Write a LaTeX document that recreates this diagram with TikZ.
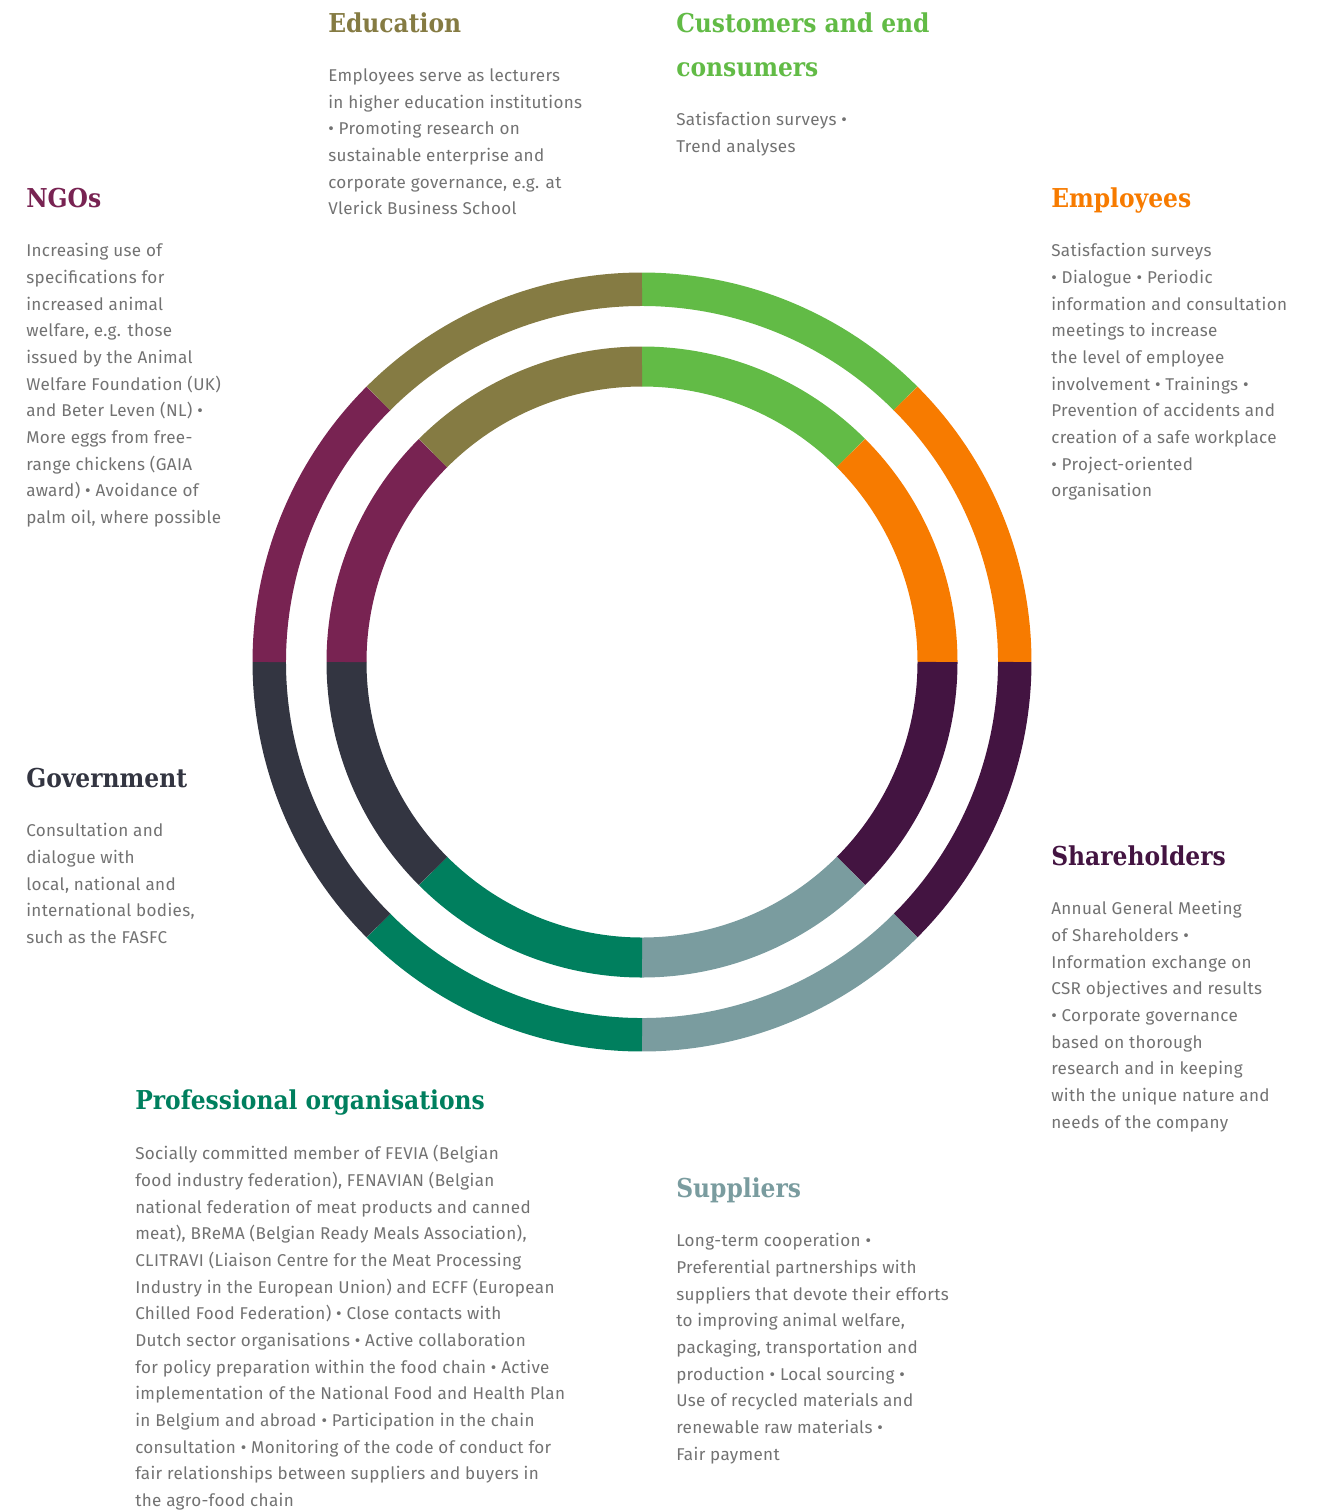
\documentclass[tikz,border=0pt]{standalone}
\usepackage{fontspec}
\setmainfont{Fira Sans}[LetterSpace=2]
\newfontfamily\slabfont{DejaVu Serif Condensed}
\usetikzlibrary{positioning}

\definecolor{colEdu}{HTML}{857B43}
\definecolor{colCust}{HTML}{62BB46}
\definecolor{colEmpl}{HTML}{F77B00}
\definecolor{colShare}{HTML}{431441}
\definecolor{colSupp}{HTML}{7A9C9F}
\definecolor{colProf}{HTML}{007F5E}
\definecolor{colGov}{HTML}{333541}
\definecolor{colNgo}{HTML}{782352}
\definecolor{bodygray}{HTML}{727272}

\newcommand{\headfont}{\slabfont\bfseries\fontsize{19.5}{33}\selectfont}
\newcommand{\bodyfont}{\fontsize{12.8}{20}\selectfont}

\begin{document}
\begin{tikzpicture}[x=0.75pt, y=0.75pt, node distance=22pt and 0pt,
  outerring/.style={line width=25.1pt},
  innerring/.style={line width=30pt},
  head/.style={font=\headfont, inner sep=0pt, anchor=base west, text depth=5pt, align=left},
  body/.style={font=\bodyfont, text=bodygray, inner sep=0pt, align=left}]
\useasboundingbox (0,0) rectangle (1322,-1510);
\coordinate (c) at (642,-662);

% outer ring, one arc per group
\draw[outerring, colCust]  (c) ++(90:372.75)  arc[start angle=90,  end angle=45,   radius=372.75];
\draw[outerring, colEmpl]  (c) ++(45:372.75)  arc[start angle=45,  end angle=0,    radius=372.75];
\draw[outerring, colShare] (c) ++(0:372.75)   arc[start angle=0,   end angle=-45,  radius=372.75];
\draw[outerring, colSupp]  (c) ++(-45:372.75) arc[start angle=-45, end angle=-90,  radius=372.75];
\draw[outerring, colProf]  (c) ++(-90:372.75) arc[start angle=-90, end angle=-135, radius=372.75];
\draw[outerring, colGov]   (c) ++(225:372.75) arc[start angle=225, end angle=180,  radius=372.75];
\draw[outerring, colNgo]   (c) ++(180:372.75) arc[start angle=180, end angle=135,  radius=372.75];
\draw[outerring, colEdu]   (c) ++(135:372.75) arc[start angle=135, end angle=90,   radius=372.75];

% inner ring
\draw[innerring, colCust]  (c) ++(90:295.5)  arc[start angle=90,  end angle=45,   radius=295.5];
\draw[innerring, colEmpl]  (c) ++(45:295.5)  arc[start angle=45,  end angle=0,    radius=295.5];
\draw[innerring, colShare] (c) ++(0:295.5)   arc[start angle=0,   end angle=-45,  radius=295.5];
\draw[innerring, colSupp]  (c) ++(-45:295.5) arc[start angle=-45, end angle=-90,  radius=295.5];
\draw[innerring, colProf]  (c) ++(-90:295.5) arc[start angle=-90, end angle=-135, radius=295.5];
\draw[innerring, colGov]   (c) ++(225:295.5) arc[start angle=225, end angle=180,  radius=295.5];
\draw[innerring, colNgo]   (c) ++(180:295.5) arc[start angle=180, end angle=135,  radius=295.5];
\draw[innerring, colEdu]   (c) ++(135:295.5) arc[start angle=135, end angle=90,   radius=295.5];

% headings (base = last line)
\node (edu)   [head, text=colEdu]   at (328,-32)   {Education};
\node (cust)  [head, text=colCust]  at (676,-76)   {Customers and end\\consumers};
\node (ngo)   [head, text=colNgo]   at (26,-207)   {NGOs};
\node (empl)  [head, text=colEmpl]  at (1051,-207) {Employees};
\node (gov)   [head, text=colGov]   at (26,-787)   {Government};
\node (share) [head, text=colShare] at (1051,-865) {Shareholders};
\node (prof)  [head, text=colProf]  at (135,-1109) {Professional organisations};
\node (supp)  [head, text=colSupp]  at (676,-1197) {Suppliers};

% texts under the headings
\node (edu text) [body, below right=of edu.south west] {Employees serve as lecturers\\
in higher education institutions\\
• Promoting research on\\
sustainable enterprise and\\
corporate governance, e.g. at\\
Vlerick Business School};
\node (cust text) [body, below right=of cust.south west] {Satisfaction surveys •\\
Trend analyses};
\node (ngo text) [body, below right=of ngo.south west] {Increasing use of\\
specifications for\\
increased animal\\
welfare, e.g. those\\
issued by the Animal\\
Welfare Foundation (UK)\\
and Beter Leven (NL) •\\
More eggs from free-\\
range chickens (GAIA\\
award) • Avoidance of\\
palm oil, where possible};
\node (empl text) [body, below right=of empl.south west] {Satisfaction surveys\\
• Dialogue • Periodic\\
information and consultation\\
meetings to increase\\
the level of employee\\
involvement • Trainings •\\
Prevention of accidents and\\
creation of a safe workplace\\
• Project-oriented\\
organisation};
\node (gov text) [body, below right=of gov.south west] {Consultation and\\
dialogue with\\
local, national and\\
international bodies,\\
such as the FASFC};
\node (share text) [body, below right=of share.south west] {Annual General Meeting\\
of Shareholders •\\
Information exchange on\\
CSR objectives and results\\
• Corporate governance\\
based on thorough\\
research and in keeping\\
with the unique nature and\\
needs of the company};
\node (prof text) [body, below right=of prof.south west] {Socially committed member of FEVIA (Belgian\\
food industry federation), FENAVIAN (Belgian\\
national federation of meat products and canned\\
meat), BReMA (Belgian Ready Meals Association),\\
CLITRAVI (Liaison Centre for the Meat Processing\\
Industry in the European Union) and ECFF (European\\
Chilled Food Federation) • Close contacts with\\
Dutch sector organisations • Active collaboration\\
for policy preparation within the food chain • Active\\
implementation of the National Food and Health Plan\\
in Belgium and abroad • Participation in the chain\\
consultation • Monitoring of the code of conduct for\\
fair relationships between suppliers and buyers in\\
the agro-food chain};
\node (supp text) [body, below right=of supp.south west] {Long-term cooperation •\\
Preferential partnerships with\\
suppliers that devote their efforts\\
to improving animal welfare,\\
packaging, transportation and\\
production • Local sourcing •\\
Use of recycled materials and\\
renewable raw materials •\\
Fair payment};
\end{tikzpicture}
\end{document}
